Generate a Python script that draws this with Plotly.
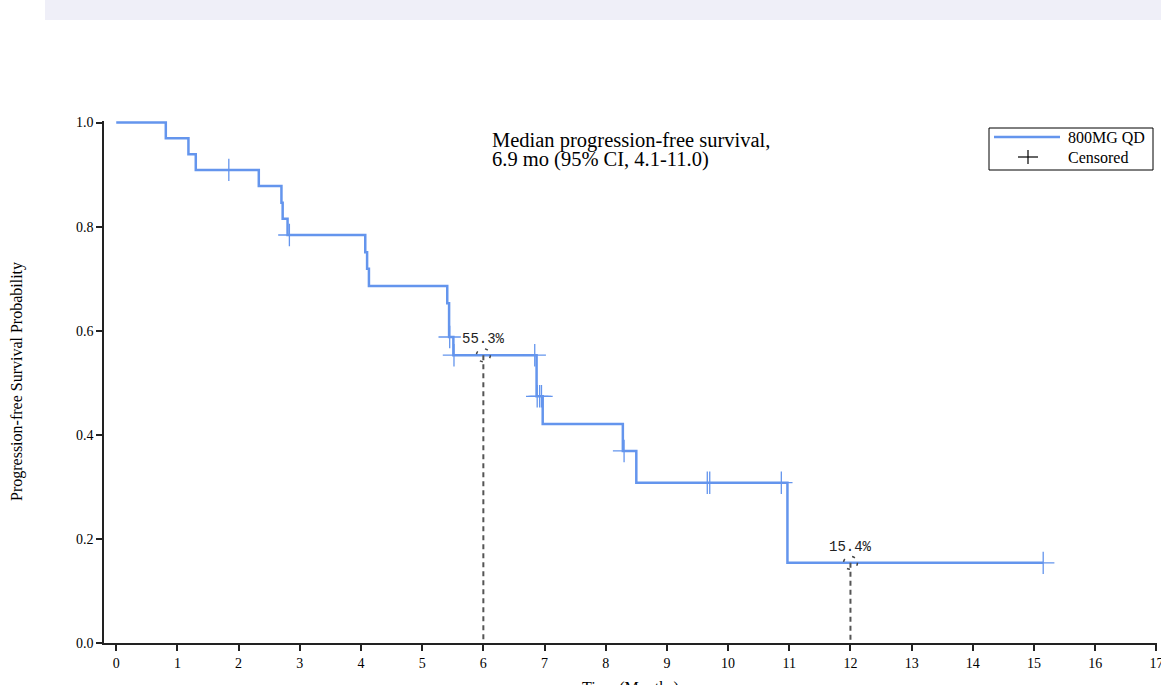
import plotly.graph_objects as go

# ---------------- data ----------------
event_times = [0.81, 1.18, 1.30, 2.33, 2.70, 2.72, 2.80, 4.07, 4.10, 4.13,
               5.41, 5.44, 5.51, 6.87, 6.97, 8.28, 8.50, 10.97]
event_surv = [0.970, 0.939, 0.909, 0.878, 0.846, 0.815, 0.784, 0.751, 0.719, 0.686,
              0.653, 0.588, 0.553, 0.474, 0.421, 0.369, 0.308, 0.154]
last_followup = 15.15

censor_times = [1.84, 2.83, 5.45, 5.52, 6.84, 6.88, 6.92, 6.95, 8.30, 9.66, 9.70, 10.87, 15.15]
censor_surv = [0.909, 0.784, 0.588, 0.553, 0.553, 0.474, 0.474, 0.474, 0.369, 0.308, 0.308, 0.308, 0.154]

landmark_times = [6, 12]
landmark_surv = [0.553, 0.154]
landmark_labels = ["55.3%", "15.4%"]

x_ticks = list(range(0, 18))
y_ticks = [0.0, 0.2, 0.4, 0.6, 0.8, 1.0]

series_name = "800MG QD"
censor_name = "Censored"
median_text = ["Median progression-free survival,", "6.9 mo (95% CI, 4.1-11.0)"]

# ---------------- layout constants ----------------
W, H = 1161, 685
ML, MR, MT, MB = 104, 4, 121, 42
PW, PH = W - ML - MR, H - MT - MB
XR = [-0.2, 17.0]
YR = [0.0, 1.003]
BLUE = "#6495ED"
SERIF = "Liberation Serif"
px_per_x = PW / (XR[1] - XR[0])
px_per_y = PH / (YR[1] - YR[0])


def pxx(p):
    return (p - ML) / PW


def pxy(p):
    return (H - MB - p) / PH


fig = go.Figure()

# KM step curve
curve_x = [0.0] + event_times + [last_followup]
curve_y = [1.0] + event_surv + [event_surv[-1]]
fig.add_trace(go.Scatter(x=curve_x, y=curve_y, mode="lines",
                         line=dict(color=BLUE, width=2.5, shape="hv"),
                         name=series_name, showlegend=False, hoverinfo="skip"))

# censor marks
fig.add_trace(go.Scatter(x=censor_times, y=censor_surv, mode="markers",
                         marker=dict(symbol="cross-thin", size=16,
                                     line=dict(color=BLUE, width=1.3)),
                         name=censor_name, showlegend=False, hoverinfo="skip"))

# landmark dashed lines
for t, s, lab in zip(landmark_times, landmark_surv, landmark_labels):
    fig.add_trace(go.Scatter(x=[t, t], y=[s, 0], mode="lines",
                             line=dict(color="#555555", width=2, dash="5px,4px"),
                             showlegend=False, hoverinfo="skip"))
    rx, ry = 7 / px_per_x, 6.5 / px_per_y
    fig.add_shape(type="circle", xref="x", yref="y", x0=t - rx, x1=t + rx,
                  y0=s - ry, y1=s + ry,
                  line=dict(color="#444444", width=1.5, dash="3px,8px"))
    fig.add_annotation(x=t, y=s, xref="x", yref="y", text=lab, showarrow=False,
                       yshift=16, font=dict(family="Liberation Mono", size=14, color="#222222"))

# median text
for i, line in enumerate(median_text):
    fig.add_annotation(xref="paper", yref="paper", x=pxx(490), y=pxy(140 + 20 * i),
                       xanchor="left", yanchor="middle", text=line, showarrow=False,
                       font=dict(family=SERIF, size=20.5, color="black"))

# manual legend
fig.add_shape(type="rect", xref="paper", yref="paper", x0=pxx(989), x1=pxx(1153),
              y0=pxy(170), y1=pxy(128), line=dict(color="black", width=1),
              fillcolor="white", layer="above")
fig.add_shape(type="line", xref="paper", yref="paper", x0=pxx(994), x1=pxx(1060),
              y0=pxy(137), y1=pxy(137), line=dict(color=BLUE, width=2.5))
fig.add_shape(type="line", xref="paper", yref="paper", x0=pxx(1018), x1=pxx(1038),
              y0=pxy(157), y1=pxy(157), line=dict(color="black", width=1.2))
fig.add_shape(type="line", xref="paper", yref="paper", x0=pxx(1028), x1=pxx(1028),
              y0=pxy(150), y1=pxy(164), line=dict(color="black", width=1.2))
for i, lab in enumerate([series_name, censor_name]):
    fig.add_annotation(xref="paper", yref="paper", x=pxx(1066), y=pxy(137 + 20 * i),
                       xanchor="left", yanchor="middle", text=lab, showarrow=False,
                       font=dict(family=SERIF, size=16, color="black"))

# axis titles
fig.add_annotation(xref="paper", yref="paper", x=pxx(17), y=0.5, textangle=-90,
                   text="Progression-free Survival Probability", showarrow=False,
                   xanchor="center", yanchor="middle",
                   font=dict(family=SERIF, size=16, color="black"))
fig.add_annotation(xref="paper", yref="paper", x=0.5, y=pxy(688),
                   text="Time (Months)", showarrow=False, xanchor="center", yanchor="middle",
                   font=dict(family=SERIF, size=16, color="black"))

# top band
fig.add_shape(type="rect", xref="paper", yref="paper", x0=pxx(45), x1=pxx(1175),
              y0=pxy(20), y1=pxy(-10), line=dict(width=0), fillcolor="#EFEFF8", layer="below")

fig.update_layout(
    width=W, height=H, autosize=False,
    margin=dict(l=ML, r=MR, t=MT, b=MB, pad=0, autoexpand=False),
    paper_bgcolor="white", plot_bgcolor="white",
    showlegend=False,
    font=dict(family=SERIF, size=14, color="black"),
)
fig.update_xaxes(range=[XR[0], XR[1] + 0.01], tickvals=x_ticks, ticktext=[str(v) for v in x_ticks],
                 ticklabeloverflow="allow", automargin=False,
                 showgrid=False, zeroline=False, showline=True, linecolor="#222222",
                 linewidth=1.5, ticks="outside", ticklen=6, tickwidth=1.5,
                 tickcolor="#222222", tickfont=dict(family=SERIF, size=14, color="black"))
fig.update_yaxes(range=YR, tickvals=y_ticks, ticktext=[f"{v:.1f}" for v in y_ticks],
                 automargin=False,
                 showgrid=False, zeroline=False, showline=True, linecolor="#222222",
                 linewidth=1.5, ticks="outside", ticklen=6, tickwidth=1.5,
                 tickcolor="#222222", tickfont=dict(family=SERIF, size=14, color="black"))

fig.write_html("out.html", config={"displayModeBar": False},
               post_script="document.body.style.margin='0px';")
